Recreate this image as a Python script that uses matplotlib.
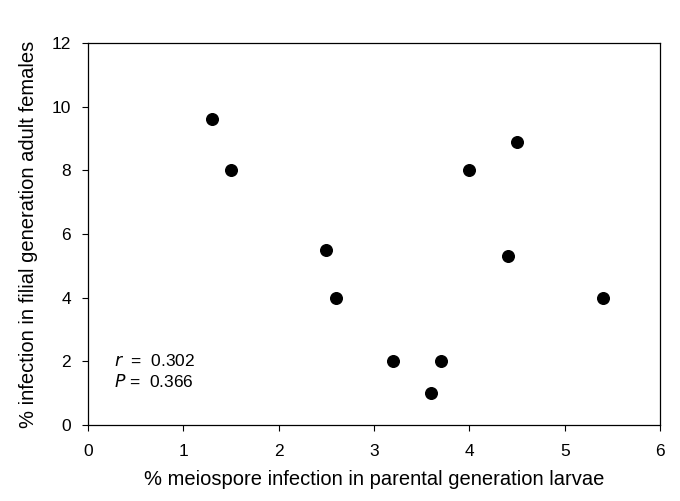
import matplotlib.pyplot as plt

plt.rcParams['font.family'] = ['Liberation Sans', 'DejaVu Sans']

# % meiospore infection in parental larvae vs % infection in filial adult females
parental = [1.3, 1.5, 2.5, 2.6, 3.2, 3.6, 3.7, 4.0, 4.4, 4.5, 5.4]
filial = [9.6, 8.0, 5.5, 4.0, 2.0, 1.0, 2.0, 8.0, 5.3, 8.9, 4.0]

fig = plt.figure(figsize=(6.8, 5.01), dpi=100)
ax = fig.add_axes([0.129, 0.152, 0.842, 0.762])

ax.scatter(parental, filial, s=70, color='black', zorder=3)

ax.set_xlim(0, 6)
ax.set_ylim(0, 12)
ax.set_xticks(range(0, 7))
ax.set_yticks(range(0, 13, 2))
ax.tick_params(direction='out', length=4, width=0.8, labelsize=12.5, pad=8)
ax.tick_params(axis='x', pad=10)
for s in ax.spines.values():
    s.set_linewidth(0.9)

ax.set_xlabel('% meiospore infection in parental generation larvae', fontsize=14.5, labelpad=8)
ax.set_ylabel('% infection in filial generation adult females', fontsize=14.5, labelpad=10)

ax.text(0.28, 2.0, '$\\it{r}$  =  0.302', fontsize=12.5, va='center')
ax.text(0.28, 1.35, '$\\it{P}$ =  0.366', fontsize=12.5, va='center')

fig.savefig('out.png', dpi=100)
